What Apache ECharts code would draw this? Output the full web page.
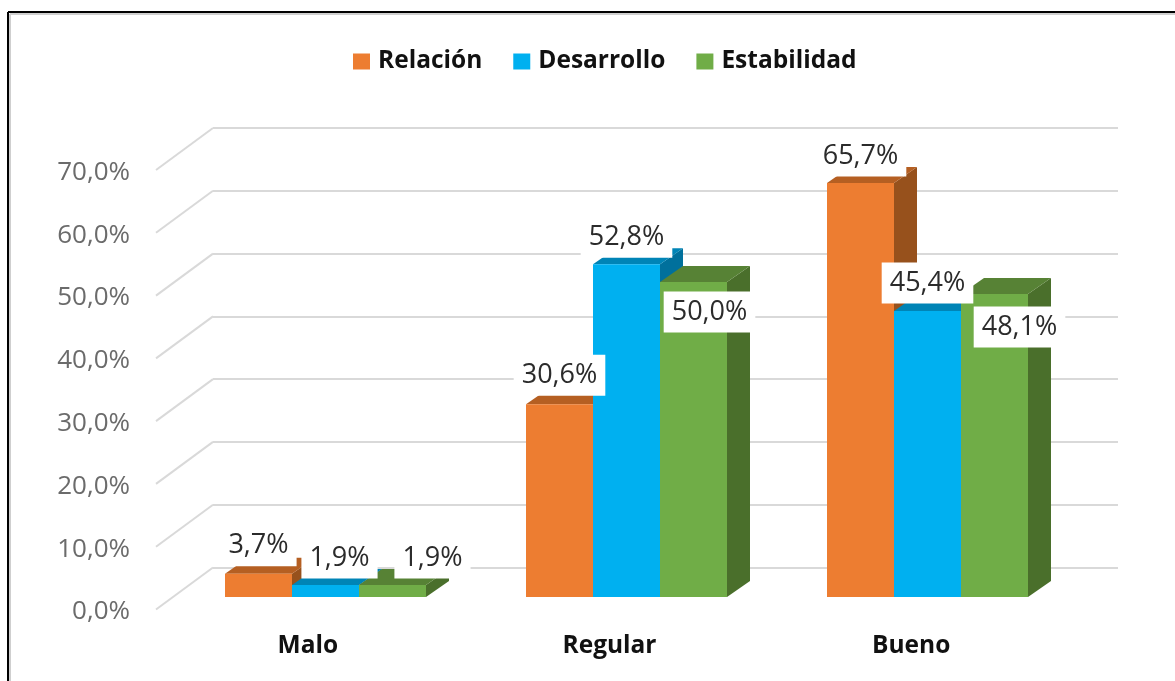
<!DOCTYPE html>
<html><head><meta charset="utf-8">
<style>html,body{margin:0;padding:0;background:#fff}#c{width:1175px;height:681px}</style>
<script src="https://cdn.jsdelivr.net/npm/echarts@6/dist/echarts.min.js"></script>
</head><body><div id="c"></div>
<script>
const categories = ['Malo', 'Regular', 'Bueno'];
const relacion = [3.7, 30.6, 65.7];
const desarrollo = [1.9, 52.8, 45.4];
const estabilidad = [1.9, 50.0, 48.1];
const yTicks = [0, 10, 20, 30, 40, 50, 60, 70];

const FONT = '"Open Sans", sans-serif';
const fmt = v => v.toFixed(1).replace('.', ',') + '%';
const DX = 23, DY = 16, BAR_W = 67;
const palette = [
  {name:'Relación', values:relacion, front:'#ED7D31', top:'#B55F22', side:'#97511C', shift:-1, offs:[[0,-28],[0,-29],[0,-27]]},
  {name:'Desarrollo', values:desarrollo, front:'#00B0F0', top:'#0084B6', side:'#00709C', shift:0, offs:[[14,-27],[0,-27],[0,-28]]},
  {name:'Estabilidad', values:estabilidad, front:'#70AD47', top:'#578235', side:'#4A6F2B', shift:1, offs:[[40,-27],[16,30],[25,33]]}
];
const pts = a => ({points:a});

function barSeries(p){
  return {
    name:p.name, type:'custom', xAxisIndex:2, yAxisIndex:2, z:3,
    itemStyle:{color:p.front},
    data:p.values.map((v,i)=>[i,v]),
    renderItem(params, api){
      const base = api.coord([api.value(0), 0]);
      const top = api.coord([api.value(0), api.value(1)]);
      const x0 = base[0] + (p.shift - 0.5) * BAR_W, x1 = x0 + BAR_W;
      const y0 = base[1], y1 = top[1];
      return {type:'group', children:[
        {type:'polygon', shape:pts([[x1,y0],[x1+DX,y0-DY],[x1+DX,y1-DY],[x1,y1]]), style:{fill:p.side}},
        {type:'polygon', shape:pts([[x0,y1],[x1,y1],[x1+DX,y1-DY],[x0+DX,y1-DY]]), style:{fill:p.top}},
        {type:'rect', shape:{x:x0,y:y1,width:BAR_W,height:y0-y1}, style:{fill:p.front}}
      ]};
    }
  };
}
function labelSeries(p){
  return {
    name:p.name+' etiquetas', type:'custom', xAxisIndex:2, yAxisIndex:2, z:10, silent:true,
    data:p.values.map((v,i)=>[i,v]),
    renderItem(params, api){
      const i = api.value(0), v = api.value(1);
      const c = api.coord([i, v]);
      return {type:'text', style:{
        x:c[0] + p.shift*BAR_W + p.offs[i][0], y:c[1] + p.offs[i][1],
        text:fmt(v), align:'center', verticalAlign:'middle',
        font:'27px '+FONT, fill:'#2b2b2b', backgroundColor:'#fff', padding:[7,8]
      }};
    }
  };
}

const chart = echarts.init(document.getElementById('c'), null, {renderer:'canvas'});
chart.setOption({
  animation:false, backgroundColor:'#fff',
  legend:{
    left:348, top:44, itemWidth:17, itemHeight:16, itemGap:31,
    data:palette.map(p=>p.name),
    textStyle:{fontFamily:FONT, fontSize:24.5, fontWeight:'bold', color:'#111', padding:[0,0,0,3]},
    icon:'rect'
  },
  grid:[
    {left:213, top:128, width:905, height:439.5},
    {left:157, top:172.5, width:905, height:439.5},
    {left:175, top:156, width:903, height:441}
  ],
  xAxis:[
    {gridIndex:0, type:'category', data:categories, show:false},
    {gridIndex:1, type:'category', data:categories, axisLine:{show:false}, axisTick:{show:false},
     axisLabel:{fontFamily:FONT, fontSize:24.5, fontWeight:'bold', color:'#111', margin:22}},
    {gridIndex:2, type:'category', data:categories, show:false}
  ],
  yAxis:[
    {gridIndex:0, type:'value', min:0, max:70, interval:10, axisLabel:{show:false}, axisLine:{show:false}, axisTick:{show:false},
     splitLine:{show:true, lineStyle:{color:'#d9d9d9', width:2}}},
    {gridIndex:1, type:'value', min:0, max:70, interval:10, axisLine:{show:false}, axisTick:{show:false}, splitLine:{show:false},
     axisLabel:{formatter:fmt, fontFamily:FONT, fontSize:26, color:'#6b6b6b', margin:27}},
    {gridIndex:2, type:'value', min:0, max:70, show:false}
  ],
  series:[
    {name:'diagonales', type:'custom', xAxisIndex:0, yAxisIndex:0, z:1, silent:true,
     data:yTicks.map(v=>[0,v]),
     renderItem(params, api){
       const c = api.coord([0, api.value(1)]);
       const x = params.coordSys.x, y = c[1];
       return {type:'line', shape:{x1:x,y1:y,x2:x-57,y2:y+42}, style:{stroke:'#d9d9d9', lineWidth:2}};
     }},
    ...palette.map(barSeries),
    ...palette.map(labelSeries)
  ],
  graphic:[
    {type:'line', shape:{x1:10,y1:14,x2:1175,y2:14}, style:{stroke:'#cfcfcf',lineWidth:2}, z:19},
    {type:'line', shape:{x1:10,y1:14,x2:10,y2:681}, style:{stroke:'#cfcfcf',lineWidth:2}, z:19},
    {type:'line', shape:{x1:8,y1:12,x2:1175,y2:12}, style:{stroke:'#000',lineWidth:2}, z:20},
    {type:'line', shape:{x1:8,y1:12,x2:8,y2:681}, style:{stroke:'#000',lineWidth:2}, z:20}
  ]
});
</script></body></html>
